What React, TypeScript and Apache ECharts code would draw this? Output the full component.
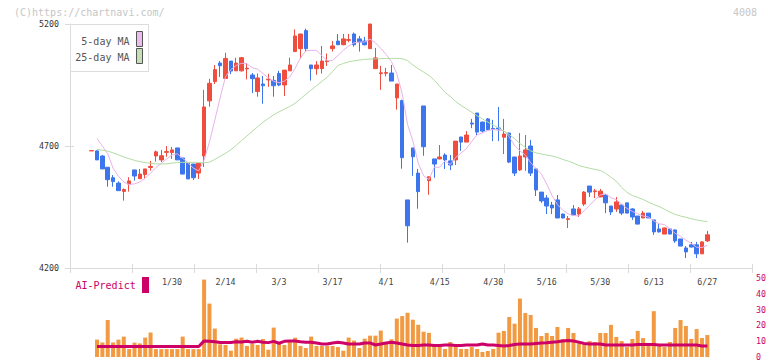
import React, { useEffect, useRef } from 'react';
import * as echarts from 'echarts';

const dates = [
  '1/8','1/9','1/10','1/14','1/15','1/16','1/17','1/20','1/21','1/22',
  '1/23','1/24','1/27','1/28','1/29','1/30','1/31','2/3','2/4','2/5',
  '2/6','2/7','2/10','2/12','2/13','2/14','2/17','2/18','2/19','2/20',
  '2/21','2/25','2/26','2/27','2/28','3/3','3/4','3/5','3/6','3/7',
  '3/10','3/11','3/12','3/13','3/14','3/17','3/18','3/19','3/21','3/24',
  '3/25','3/26','3/27','3/28','3/31','4/1','4/2','4/3','4/4','4/7',
  '4/8','4/9','4/10','4/11','4/14','4/15','4/16','4/17','4/18','4/21',
  '4/22','4/23','4/24','4/25','4/28','4/30','5/1','5/2','5/7','5/8',
  '5/9','5/12','5/13','5/14','5/15','5/16','5/19','5/20','5/21','5/22',
  '5/23','5/26','5/27','5/28','5/29','5/30','6/2','6/3','6/4','6/5',
  '6/6','6/9','6/10','6/11','6/12','6/13','6/16','6/17','6/18','6/19',
  '6/20','6/23','6/24','6/25','6/26','6/27'
];

const openPrices = [
  4680,4680,4659,4613,4570,4548,4514,4544,4602,4566,
  4583,4612,4659,4643,4674,4673,4692,4651,4630,4626,
  4589,4659,4885,4964,5040,4977,5048,5008,5008,5016,
  4991,4923,4954,4971,4969,4997,4950,5008,5087,5099,
  5173,5032,5017,5017,5046,5099,5130,5115,5133,5159,
  5139,5130,5099,5017,4997,4998,4999,4897,4886,4479,
  4692,4589,4864,4558,4647,4647,4663,4639,4643,4737,
  4716,4794,4835,4798,4811,4772,4774,4736,4753,4655,
  4602,4655,4700,4606,4511,4487,4458,4479,4421,4399,
  4442,4421,4462,4536,4513,4491,4499,4454,4442,4458,
  4467,4442,4413,4405,4425,4397,4360,4339,4360,4356,
  4319,4282,4295,4295,4258,4311
];
const closePrices = [
  4681,4643,4606,4562,4554,4517,4522,4557,4577,4585,
  4606,4616,4676,4660,4677,4684,4643,4585,4565,4570,
  4629,4860,4957,5013,5029,5059,5007,5040,5062,5019,
  4976,4979,4947,4974,4947,4950,5011,5032,5151,5159,
  5099,5017,5032,5048,5049,5110,5115,5139,5136,5115,
  5126,5115,5200,5061,5000,5001,4966,4954,4652,4373,
  4656,4513,4697,4574,4626,4655,4643,4622,4720,4716,
  4745,4790,4757,4761,4766,4768,4770,4749,4634,4589,
  4659,4684,4589,4520,4475,4454,4446,4405,4405,4402,
  4417,4442,4511,4511,4516,4515,4467,4430,4471,4425,
  4425,4409,4380,4425,4405,4348,4348,4364,4339,4311,
  4290,4266,4286,4258,4307,4336
];
const lowPrices = [
  4680,4643,4606,4533,4533,4517,4476,4513,4558,4566,
  4564,4599,4636,4634,4656,4647,4643,4585,4565,4561,
  4565,4614,4861,4954,4983,4977,4994,5008,5005,4973,
  4917,4902,4873,4942,4902,4945,4905,5008,5087,5058,
  5087,4968,4992,4997,5028,5087,5115,5113,5125,5107,
  5087,5112,5099,5017,4930,4985,4966,4849,4607,4304,
  4578,4443,4660,4500,4570,4645,4606,4601,4622,4680,
  4716,4773,4741,4755,4763,4720,4720,4667,4630,4577,
  4598,4598,4577,4495,4467,4421,4421,4405,4403,4364,
  4417,4409,4454,4491,4487,4491,4425,4417,4430,4417,
  4425,4397,4380,4405,4405,4336,4345,4339,4339,4303,
  4290,4241,4284,4241,4258,4307
];
const highPrices = [
  4681,4682,4663,4613,4581,4555,4526,4572,4602,4606,
  4606,4639,4681,4684,4700,4696,4692,4651,4630,4626,
  4629,4930,4975,5032,5048,5082,5048,5062,5065,5040,
  4999,4997,4987,4996,4987,5008,5011,5062,5178,5159,
  5181,5032,5048,5110,5079,5130,5159,5159,5159,5165,
  5151,5147,5200,5102,5028,5020,5032,4954,4890,4479,
  4692,4606,4864,4574,4647,4704,4670,4663,4720,4737,
  4761,4811,4835,4800,4815,4807,4860,4811,4755,4655,
  4753,4745,4725,4606,4511,4499,4471,4499,4423,4413,
  4458,4450,4515,4536,4524,4524,4502,4454,4491,4460,
  4467,4445,4413,4434,4425,4397,4380,4366,4364,4358,
  4319,4290,4307,4307,4309,4352
];

const ma5 = [
  null,4731,4700,4668,4609,4576,4552,4542,4545,4552,
  4569,4588,4612,4629,4647,4663,4668,4650,4631,4609,
  4598,4642,4716,4806,4898,4984,5013,5030,5039,5037,
  5021,5015,4997,4979,4965,4959,4966,4983,5018,5061,
  5090,5092,5092,5071,5049,5051,5071,5092,5110,5123,
  5126,5126,5138,5123,5100,5075,5046,4996,4915,4789,
  4720,4630,4578,4563,4613,4613,4639,4624,4653,4671,
  4689,4719,4746,4754,4764,4768,4764,4763,4737,4702,
  4680,4663,4631,4608,4585,4544,4497,4460,4437,4422,
  4415,4414,4435,4457,4479,4499,4504,4488,4480,4462,
  4444,4432,4422,4413,4409,4393,4381,4378,4361,4342,
  4330,4314,4301,4285,4284,4293
];
const ma25 = [
  null,4686,4683,4679,4672,4664,4655,4648,4641,4636,
  4632,4629,4627,4626,4627,4630,4632,4633,4633,4633,
  4632,4631,4634,4645,4658,4670,4685,4703,4722,4741,
  4760,4779,4797,4813,4828,4840,4851,4862,4875,4893,
  4912,4930,4947,4965,4982,5005,5030,5038,5045,5049,
  5052,5055,5056,5057,5058,5059,5059,5059,5058,5050,
  5032,5017,5003,4989,4970,4945,4920,4903,4882,4866,
  4853,4838,4824,4811,4798,4786,4774,4761,4747,4730,
  4710,4695,4680,4672,4667,4663,4659,4653,4645,4638,
  4630,4620,4614,4609,4604,4600,4588,4572,4555,4530,
  4510,4497,4489,4481,4470,4460,4452,4441,4429,4420,
  4413,4408,4402,4397,4393,4390
];

const volumeBars = [
  null,11.0,9.2,23.4,9.2,11.0,12.9,5.0,9.1,8.6,
  12.3,15.5,5.0,5.0,5.0,5.0,5.0,12.9,5.0,5.0,
  5.0,49.0,33.8,18.0,8.0,7.6,4.0,11.6,12.3,7.0,
  8.2,7.6,11.4,4.6,18.6,9.5,7.6,9.5,12.2,7.0,
  5.7,12.9,7.0,7.0,7.0,7.0,6.3,4.0,12.3,10.4,
  5.7,11.6,13.5,13.5,16.7,9.2,11.2,24.3,25.9,28.0,
  23.6,20.4,16.0,15.3,7.6,7.6,5.1,9.5,7.0,5.1,
  5.1,6.3,5.1,3.2,3.8,5.1,15.4,16.5,25.3,21.1,
  37.0,27.8,26.6,18.4,13.3,15.2,13.3,19.0,11.4,18.4,
  15.2,8.9,7.6,10.1,9.5,15.2,15.2,20.3,12.7,10.1,
  6.3,11.4,16.5,12.0,8.2,29.0,7.0,6.3,9.5,18.4,
  23.4,19.6,11.4,17.7,12.0,13.9
];
const aiPredict = [
  null,6.6,6.6,6.6,6.6,6.6,6.6,6.6,6.6,6.6,
  6.6,6.6,6.6,6.6,6.6,6.6,6.6,6.6,6.6,6.6,
  6.6,10.2,10.0,9.7,9.2,9.2,9.2,9.7,9.5,9.9,
  9.4,9.9,9.4,9.1,9.9,8.7,9.9,10.1,10.1,9.7,
  9.4,9.4,8.9,8.2,8.2,8.9,9.4,8.9,8.2,8.2,
  8.2,8.9,8.9,7.6,8.2,8.9,9.4,8.8,8.2,7.6,
  7.3,7.3,7.6,7.6,7.3,7.3,7.6,7.6,7.3,7.3,
  7.6,7.6,7.6,8.2,7.6,7.6,7.3,7.0,7.3,7.9,
  8.2,8.2,8.2,8.5,8.8,9.0,9.3,9.6,10.1,10.4,
  10.1,9.4,8.5,8.2,8.2,8.2,7.6,7.6,7.6,7.6,
  7.6,7.6,7.9,7.9,7.9,7.9,7.6,7.6,7.6,7.6,
  7.6,7.6,7.6,7.6,7.0,7.0
];

const priceTicks = { min: 4200, max: 5200, step: 500 };
const volumeTicks = { min: 0, max: 50, step: 10 };

const MONO = '"DejaVu Sans Mono", monospace';
const RED = '#ef4d3d';
const BLUE = '#3d76ec';
const AXIS_GRAY = '#dadada';
const MAGENTA = '#cc0066';

export default function App() {
  const ref = useRef<HTMLDivElement>(null);

  useEffect(() => {
    if (!ref.current) return;
    const chart = echarts.init(ref.current, undefined, { renderer: 'svg' });
    const candles = dates.map((_, i) => [openPrices[i], closePrices[i], lowPrices[i], highPrices[i]]);

    const option: any = {
      animation: false,
      backgroundColor: '#ffffff',
      textStyle: { fontFamily: MONO },
      grid: [
        { left: 89, width: 621, top: 24, height: 244 },
        { left: 70, width: 682, top: 24, height: 244 },
        { left: 89, width: 621, top: 278, height: 79 },
      ],
      xAxis: [
        {
          type: 'category', gridIndex: 0, data: dates, boundaryGap: true, position: 'bottom',
          axisLine: { show: false }, axisTick: { show: false }, splitLine: { show: false },
          axisLabel: {
            interval: (i: number) => i >= 15 && (i - 15) % 10 === 0,
            margin: 10, color: '#444', fontSize: 8.3, fontFamily: MONO,
          },
        },
        {
          type: 'value', gridIndex: 1, min: 0, max: 11, interval: 1, position: 'bottom',
          axisLine: { show: true, lineStyle: { color: AXIS_GRAY, width: 1 } },
          axisTick: { show: true, length: 5, lineStyle: { color: AXIS_GRAY } },
          axisLabel: { show: false }, splitLine: { show: false },
        },
        {
          type: 'value', gridIndex: 1, min: 0, max: 11, interval: 1, position: 'bottom',
          axisLine: { show: false },
          axisTick: { show: true, inside: true, length: 4, lineStyle: { color: AXIS_GRAY } },
          axisLabel: { show: false }, splitLine: { show: false },
        },
        { type: 'category', gridIndex: 2, data: dates, boundaryGap: true, show: false },
      ],
      yAxis: [
        {
          type: 'value', gridIndex: 0, min: priceTicks.min, max: priceTicks.max, interval: priceTicks.step,
          position: 'left', offset: 19,
          axisLine: { show: true, lineStyle: { color: AXIS_GRAY, width: 1 } },
          axisTick: { show: true, length: 5, lineStyle: { color: AXIS_GRAY } },
          axisLabel: { margin: 11, color: '#333', fontSize: 8.3, fontFamily: MONO, formatter: (v: number) => String(v) },
          splitLine: { show: false },
        },
        {
          type: 'value', gridIndex: 0, min: priceTicks.min, max: priceTicks.max, interval: priceTicks.step,
          position: 'left', offset: 19,
          axisLine: { show: false },
          axisTick: { show: true, inside: true, length: 4, lineStyle: { color: AXIS_GRAY } },
          axisLabel: { show: false }, splitLine: { show: false },
        },
        { type: 'value', gridIndex: 1, show: false, min: 0, max: 1 },
        {
          type: 'value', gridIndex: 2, min: volumeTicks.min, max: volumeTicks.max, interval: volumeTicks.step,
          position: 'right', offset: 42,
          axisLine: { show: false }, axisTick: { show: false }, splitLine: { show: false },
          axisLabel: { margin: 4, color: MAGENTA, fontSize: 8.3, fontFamily: MONO, formatter: (v: number) => String(v) },
        },
      ],
      series: [
        {
          type: 'candlestick', xAxisIndex: 0, yAxisIndex: 0, data: candles, barWidth: 4,
          itemStyle: { color: RED, color0: BLUE, borderColor: RED, borderColor0: BLUE, borderWidth: 1 },
          z: 2,
        },
        {
          type: 'line', xAxisIndex: 0, yAxisIndex: 0, data: ma5, symbol: 'none',
          lineStyle: { color: '#e8b2ea', width: 1 }, z: 3,
        },
        {
          type: 'line', xAxisIndex: 0, yAxisIndex: 0, data: ma25, symbol: 'none',
          lineStyle: { color: '#b3dba3', width: 1 }, z: 3,
        },
        {
          type: 'bar', xAxisIndex: 3, yAxisIndex: 3, data: volumeBars, barWidth: 4,
          itemStyle: { color: '#f29a42' }, z: 2,
        },
        {
          type: 'line', xAxisIndex: 3, yAxisIndex: 3, data: aiPredict, symbol: 'none',
          lineStyle: { color: MAGENTA, width: 3 }, z: 3,
        },
      ],
      graphic: [
        {
          type: 'text', x: 14, y: 12, z: 10,
          style: { text: '(C)https://chartnavi.com/', fill: '#c6c6c6', font: `10px ${MONO}`, verticalAlign: 'middle', align: 'left' },
        },
        {
          type: 'text', x: 757, y: 12, z: 10,
          style: { text: '4008', fill: '#c6c6c6', font: `10px ${MONO}`, verticalAlign: 'middle', align: 'right' },
        },
        {
          type: 'rect', z: 10, shape: { x: 70.5, y: 24.5, width: 78, height: 47 },
          style: { fill: '#ffffff', stroke: '#dcdcdc', lineWidth: 1 },
        },
        {
          type: 'text', x: 129.5, y: 41, z: 11,
          style: { text: '5-day MA', fill: '#555', font: `10px ${MONO}`, verticalAlign: 'middle', align: 'right' },
        },
        {
          type: 'text', x: 129.5, y: 57, z: 11,
          style: { text: '25-day MA', fill: '#555', font: `10px ${MONO}`, verticalAlign: 'middle', align: 'right' },
        },
        {
          type: 'rect', z: 11, shape: { x: 136.5, y: 31.5, width: 6, height: 15 },
          style: { fill: '#ecbcec', stroke: '#555', lineWidth: 1 },
        },
        {
          type: 'rect', z: 11, shape: { x: 136.5, y: 48.5, width: 6, height: 15 },
          style: { fill: '#c2e0b4', stroke: '#555', lineWidth: 1 },
        },
        {
          type: 'text', x: 75.5, y: 285.5, z: 11,
          style: { text: 'AI-Predict', fill: MAGENTA, font: `10px ${MONO}`, verticalAlign: 'middle', align: 'left' },
        },
        {
          type: 'rect', z: 11, shape: { x: 142, y: 277, width: 7, height: 16 },
          style: { fill: MAGENTA },
        },
      ],
    };

    chart.setOption(option);
    return () => chart.dispose();
  }, []);

  return (
    <div
      ref={ref}
      style={{ position: 'fixed', left: 0, top: 0, width: 772, height: 361, background: '#fff' }}
    />
  );
}
